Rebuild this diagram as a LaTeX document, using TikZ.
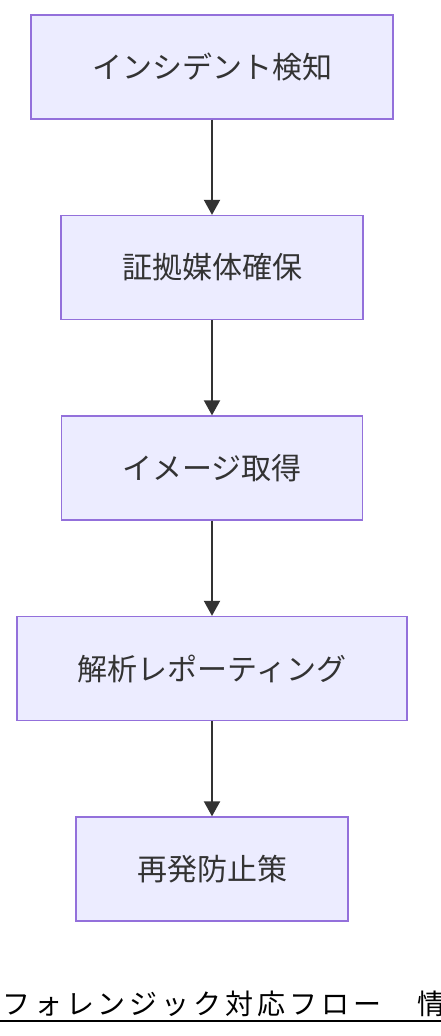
\documentclass[tikz,border=0pt]{standalone}
\usepackage{fontspec}
\newfontfamily\jpfont{Noto Sans CJK JP}
\newfontfamily\capfont[LetterSpace=14]{Noto Sans CJK JP}
\usetikzlibrary{positioning,
                arrows.meta
                }

\definecolor{boxfill}{HTML}{ECECFF}
\definecolor{boxline}{HTML}{9370DB}
\definecolor{pfeil}{HTML}{333333}

\begin{document}
\begin{tikzpicture}[x=1pt, y=1pt,
    schritt/.style={draw=boxline, fill=boxfill, line width=1.3pt,
        minimum height=104pt, inner xsep=61pt, inner ysep=0pt,
        text=pfeil, font=\jpfont\fontsize{30pt}{36pt}\selectfont},
    pfeillinie/.style={draw=pfeil, line width=2pt,
        -{Triangle[length=15pt, width=16pt]}},
    node distance=95.2pt
    ]
    % Rahmen der Zeichnung
    \useasboundingbox (0,0) rectangle (440,-1036);

    % Schritte der Ablaufkette
    \node[schritt] (detect) at (212,-67) {インシデント検知};
    \node[schritt, below=of detect] (secure) {証拠媒体確保};
    \node[schritt, below=of secure] (image) {イメージ取得};
    \node[schritt, below=of image] (report) {解析レポーティング};
    \node[schritt, below=of report] (prevent) {再発防止策};

    % Zeichne die Pfeile
    \draw[pfeillinie] (detect) -- (secure);
    \draw[pfeillinie] (secure) -- (image);
    \draw[pfeillinie] (image) -- (report);
    \draw[pfeillinie] (report) -- (prevent);

    % Bildunterschrift mit Unterstrich
    \node[anchor=base west, inner sep=0pt, text=black,
        font=\capfont\fontsize{28pt}{34pt}\selectfont]
        (caption) at (2,-1014) {フォレンジック対応フロー　情報漏洩};
    \coordinate (ulinks) at (0,-1021);
    \coordinate (urechts) at (caption.base east |- ulinks);
    \draw[line width=2pt, black] (ulinks) -- (urechts);
\end{tikzpicture}
\end{document}
